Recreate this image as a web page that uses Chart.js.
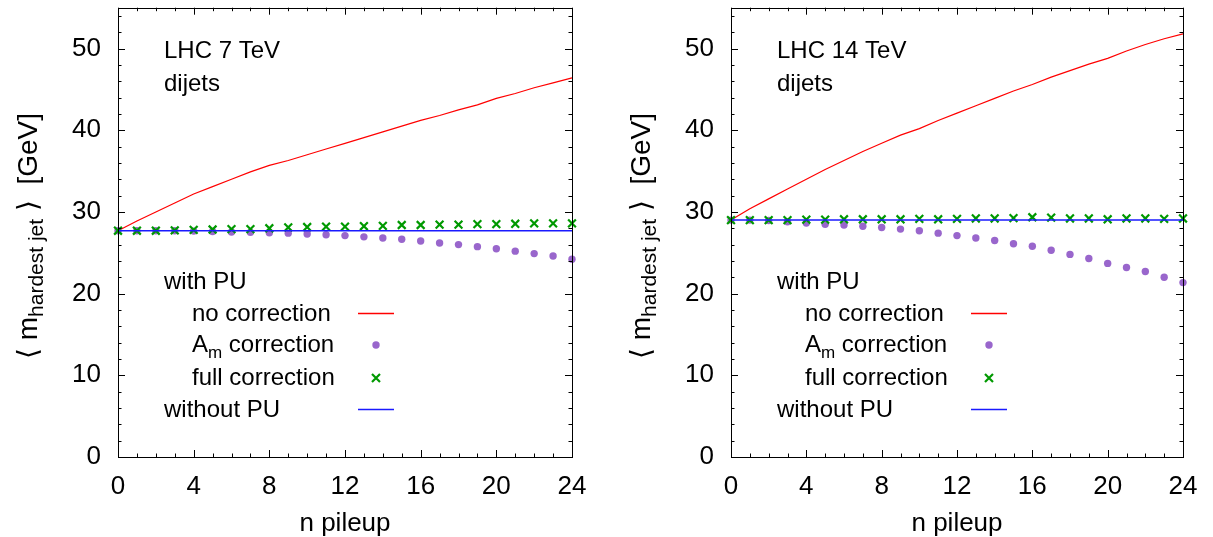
<!DOCTYPE html>
<html>
<head>
<meta charset="utf-8">
<script src="https://cdn.jsdelivr.net/npm/chart.js@4/dist/chart.umd.min.js"></script>
<style>
  body { margin: 0; background: #fff; }
  .painel { position: absolute; top: 0; height: 537px; }
  #p7 { left: 0; width: 606px; }
  #p14 { left: 606px; width: 607px; }
</style>
</head>
<body>
<div class="painel" id="p7"><canvas id="grafico7"></canvas></div>
<div class="painel" id="p14"><canvas id="grafico14"></canvas></div>
<script>
// n pileup
const nPileup = [0,1,2,3,4,5,6,7,8,9,10,11,12,13,14,15,16,17,18,19,20,21,22,23,24];

// LHC 7 TeV
const semCorrecao7 = [27.7,28.9,30.0,31.1,32.2,33.1,34.0,34.9,35.7,36.3,37.0,37.7,38.4,39.1,39.8,40.5,41.2,41.8,42.5,43.1,43.9,44.5,45.2,45.8,46.4];
const correcaoAm7 = [27.7,27.7,27.7,27.7,27.65,27.6,27.55,27.5,27.45,27.4,27.3,27.2,27.1,26.95,26.8,26.65,26.45,26.2,26.0,25.75,25.5,25.2,24.9,24.6,24.2];
const correcaoTotal7 = [27.7,27.7,27.7,27.75,27.8,27.85,27.9,27.9,28.0,28.1,28.15,28.2,28.2,28.25,28.3,28.4,28.4,28.45,28.45,28.5,28.5,28.55,28.6,28.6,28.6];
const semPU7 = [27.7,27.7,27.7,27.7,27.7,27.7,27.7,27.7,27.7,27.7,27.7,27.7,27.7,27.7,27.7,27.7,27.7,27.7,27.7,27.7,27.7,27.7,27.7,27.7,27.7];

// LHC 14 TeV
const semCorrecao14 = [29.0,30.4,31.6,32.8,34.0,35.2,36.3,37.4,38.4,39.4,40.2,41.2,42.1,43.0,43.9,44.8,45.6,46.5,47.3,48.1,48.8,49.7,50.5,51.2,51.8];
const correcaoAm14 = [29.0,29.0,28.95,28.8,28.65,28.5,28.4,28.25,28.1,27.9,27.7,27.4,27.1,26.8,26.5,26.1,25.8,25.3,24.8,24.3,23.7,23.2,22.7,22.0,21.35];
const correcaoTotal14 = [29.0,29.0,29.0,29.0,29.05,29.05,29.1,29.1,29.1,29.1,29.15,29.1,29.15,29.2,29.2,29.25,29.35,29.3,29.2,29.2,29.1,29.2,29.2,29.15,29.2];
const semPU14 = [29.0,29.0,29.0,29.0,29.0,29.0,29.0,29.0,29.0,29.0,29.0,29.0,29.0,29.0,29.0,29.0,29.0,29.0,29.0,29.0,29.0,29.0,29.0,29.0,29.0];

const ticksX = [0,4,8,12,16,20,24];
const ticksY = [0,10,20,30,40,50];

const fonte = '"Liberation Sans", Arial, "DejaVu Sans", sans-serif';
const vermelho = '#ff0000';
const roxo = '#9966cc';
const verde = '#009900';
const azul = '#1a1aff';

function pontos(valores){
    return nPileup.map((n, i) => ({ x: n, y: valores[i] }));
}

// moldura, tracinhos e textos
const moldura = {
    id: 'moldura',
    afterDatasetsDraw(chart, args, opts){
        const c = chart.ctx;
        const a = chart.chartArea;
        const sx = chart.scales.x;
        const sy = chart.scales.y;

        c.save();
        c.strokeStyle = '#000';
        c.lineWidth = 1;

        c.beginPath();
        for (let v = 0; v <= 24; v++) {
            const px = Math.round(sx.getPixelForValue(v)) + 0.5;
            const t = (v % 4 === 0) ? 7 : 3.5;
            c.moveTo(px, a.bottom); c.lineTo(px, a.bottom - t);
            c.moveTo(px, a.top); c.lineTo(px, a.top + t);
        }
        for (let v = 0; v <= 55; v += 2) {
            const py = Math.round(sy.getPixelForValue(v)) + 0.5;
            const t = (v % 10 === 0) ? 7 : 3.5;
            c.moveTo(a.left, py); c.lineTo(a.left + t, py);
            c.moveTo(a.right, py); c.lineTo(a.right - t, py);
        }
        c.stroke();
        c.strokeRect(Math.round(a.left) + 0.5, Math.round(a.top) + 0.5, Math.round(a.right - a.left), Math.round(a.bottom - a.top));

        c.fillStyle = '#000';
        c.textBaseline = 'alphabetic';
        c.textAlign = 'left';
        c.font = '24px ' + fonte;
        c.fillText(opts.titulo, a.left + 46, 58);
        c.fillText('dijets', a.left + 46, 91);

        // legenda
        const lx = a.left;
        c.fillText('with PU', lx + 46, 289);
        c.fillText('no correction', lx + 74, 321);
        c.fillText('A', lx + 74, 352);
        let w = c.measureText('A').width;
        c.font = '17px ' + fonte;
        c.fillText('m', lx + 74 + w, 358);
        w += c.measureText('m').width;
        c.font = '24px ' + fonte;
        c.fillText(' correction', lx + 74 + w, 352);
        c.fillText('full correction', lx + 74, 385);
        c.fillText('without PU', lx + 46, 417);

        c.lineWidth = 1.5;
        c.strokeStyle = vermelho;
        c.beginPath(); c.moveTo(lx + 240, 313.5); c.lineTo(lx + 276, 313.5); c.stroke();
        c.strokeStyle = azul;
        c.beginPath(); c.moveTo(lx + 240, 409.5); c.lineTo(lx + 276, 409.5); c.stroke();
        c.fillStyle = roxo;
        c.beginPath(); c.arc(lx + 258, 345, 3.7, 0, Math.PI * 2); c.fill();
        c.strokeStyle = verde;
        c.lineWidth = 2.2;
        c.beginPath();
        c.moveTo(lx + 254, 374); c.lineTo(lx + 262, 382);
        c.moveTo(lx + 262, 374); c.lineTo(lx + 254, 382);
        c.stroke();

        // titulos dos eixos
        c.fillStyle = '#000';
        c.font = '26px ' + fonte;
        c.textAlign = 'center';
        c.fillText('n pileup', (a.left + a.right) / 2, 531);

        c.translate(a.left - 90, 236);
        c.rotate(-Math.PI / 2);
        c.textAlign = 'left';
        const p1 = '\u27E8 m';
        const p2 = 'hardest jet';
        const p3 = ' \u27E9  [GeV]';
        c.font = '28px ' + fonte;
        const w1 = c.measureText(p1).width;
        const w3 = c.measureText(p3).width;
        c.font = '21px ' + fonte;
        const w2 = c.measureText(p2).width;
        let x0 = -(w1 + w2 + w3) / 2;
        c.font = '28px ' + fonte;
        c.fillText(p1, x0, 9);
        c.font = '21px ' + fonte;
        c.fillText(p2, x0 + w1, 15);
        c.font = '28px ' + fonte;
        c.fillText(p3, x0 + w1 + w2, 9);
        c.restore();
    }
};

function criarGrafico(id, titulo, vermelhoY, roxoY, verdeY, azulY, esquerda, direita){
    const ctx = document.getElementById(id);
    return new Chart(ctx, {
        type: 'line',
        data: {
            datasets: [
                { label: 'without PU', data: pontos(azulY), borderColor: azul, borderWidth: 1.5, pointRadius: 0, order: 0, clip: false },
                { label: 'full correction', data: pontos(verdeY), showLine: false, pointStyle: 'crossRot', pointRadius: 5.5, pointBorderWidth: 2.2, borderColor: verde, backgroundColor: verde, order: 1, clip: false },
                { label: 'A_m correction', data: pontos(roxoY), showLine: false, pointStyle: 'circle', pointRadius: 3.7, pointBorderWidth: 0, borderColor: roxo, backgroundColor: roxo, order: 2, clip: false },
                { label: 'no correction', data: pontos(vermelhoY), borderColor: vermelho, borderWidth: 1.2, pointRadius: 0, order: 3, clip: false }
            ]
        },
        options: {
            responsive: false,
            animation: false,
            events: [],
            layout: { padding: { left: 0, right: direita, top: 5, bottom: 0 } },
            plugins: {
                legend: { display: false },
                tooltip: { enabled: false },
                moldura: { titulo: titulo }
            },
            scales: {
                x: {
                    type: 'linear',
                    min: 0, max: 24,
                    grid: { display: false, drawTicks: false },
                    border: { display: false },
                    afterFit(s){ s.height = 80; s.paddingLeft = 0; s.paddingRight = 0; },
                    afterBuildTicks(s){ s.ticks = ticksX.map(v => ({ value: v })); },
                    ticks: { color: '#000', padding: 14, maxRotation: 0, autoSkip: false, font: { family: fonte, size: 26 } }
                },
                y: {
                    min: 0, max: 55,
                    grid: { display: false, drawTicks: false },
                    border: { display: false },
                    afterFit(s){ s.width = esquerda; s.paddingTop = 0; s.paddingBottom = 0; },
                    afterBuildTicks(s){ s.ticks = ticksY.map(v => ({ value: v })); },
                    ticks: { color: '#000', padding: 17, font: { family: fonte, size: 26 } }
                }
            }
        },
        plugins: [moldura]
    });
}

function ajustarCanvas(id, w){
    const cv = document.getElementById(id);
    cv.width = w; cv.height = 537;
    cv.style.width = w + 'px'; cv.style.height = '537px';
}

ajustarCanvas('grafico7', 606);
ajustarCanvas('grafico14', 607);

criarGrafico('grafico7', 'LHC 7 TeV', semCorrecao7, correcaoAm7, correcaoTotal7, semPU7, 118, 34);
criarGrafico('grafico14', 'LHC 14 TeV', semCorrecao14, correcaoAm14, correcaoTotal14, semPU14, 125, 30);
</script>
</body>
</html>
